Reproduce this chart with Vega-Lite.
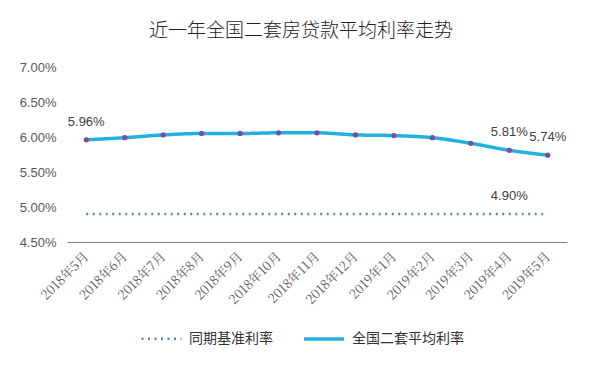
{
  "$schema": "https://vega.github.io/schema/vega-lite/v6.json",
  "width": 500,
  "height": 175,
  "autosize": {"type": "none"},
  "padding": {"left": 67, "top": 67, "right": 28, "bottom": 129},
  "background": "white",
  "title": {
    "text": "近一年全国二套房贷款平均利率走势",
    "font": "Noto Sans CJK SC",
    "fontSize": 19,
    "fontWeight": 300,
    "color": "#222222",
    "anchor": "middle",
    "offset": 20,
    "dx": -16
  },
  "data": {
    "values": [
      {"month": "2018年5月", "series": "全国二套平均利率", "value": 5.96, "label": "5.96%"},
      {"month": "2018年6月", "series": "全国二套平均利率", "value": 5.99, "label": ""},
      {"month": "2018年7月", "series": "全国二套平均利率", "value": 6.03, "label": ""},
      {"month": "2018年8月", "series": "全国二套平均利率", "value": 6.05, "label": ""},
      {"month": "2018年9月", "series": "全国二套平均利率", "value": 6.05, "label": ""},
      {"month": "2018年10月", "series": "全国二套平均利率", "value": 6.06, "label": ""},
      {"month": "2018年11月", "series": "全国二套平均利率", "value": 6.06, "label": ""},
      {"month": "2018年12月", "series": "全国二套平均利率", "value": 6.03, "label": ""},
      {"month": "2019年1月", "series": "全国二套平均利率", "value": 6.02, "label": ""},
      {"month": "2019年2月", "series": "全国二套平均利率", "value": 5.99, "label": ""},
      {"month": "2019年3月", "series": "全国二套平均利率", "value": 5.91, "label": ""},
      {"month": "2019年4月", "series": "全国二套平均利率", "value": 5.81, "label": "5.81%"},
      {"month": "2019年5月", "series": "全国二套平均利率", "value": 5.74, "label": "5.74%"},
      {"month": "2018年5月", "series": "同期基准利率", "value": 4.9, "label": ""},
      {"month": "2018年6月", "series": "同期基准利率", "value": 4.9, "label": ""},
      {"month": "2018年7月", "series": "同期基准利率", "value": 4.9, "label": ""},
      {"month": "2018年8月", "series": "同期基准利率", "value": 4.9, "label": ""},
      {"month": "2018年9月", "series": "同期基准利率", "value": 4.9, "label": ""},
      {"month": "2018年10月", "series": "同期基准利率", "value": 4.9, "label": ""},
      {"month": "2018年11月", "series": "同期基准利率", "value": 4.9, "label": ""},
      {"month": "2018年12月", "series": "同期基准利率", "value": 4.9, "label": ""},
      {"month": "2019年1月", "series": "同期基准利率", "value": 4.9, "label": ""},
      {"month": "2019年2月", "series": "同期基准利率", "value": 4.9, "label": ""},
      {"month": "2019年3月", "series": "同期基准利率", "value": 4.9, "label": ""},
      {"month": "2019年4月", "series": "同期基准利率", "value": 4.9, "label": "4.90%"},
      {"month": "2019年5月", "series": "同期基准利率", "value": 4.9, "label": ""}
    ]
  },
  "encoding": {
    "x": {
      "field": "month",
      "type": "ordinal",
      "sort": null,
      "scale": {"type": "point", "padding": 0.5},
      "axis": {
        "title": null,
        "labelAngle": -45,
        "labelAlign": "right",
        "labelBaseline": "middle",
        "labelFont": "Noto Serif CJK SC, Liberation Serif, serif",
        "labelFontSize": 13,
        "labelColor": "#595959",
        "labelPadding": 12,
        "ticks": false,
        "domainColor": "#888888",
        "domainWidth": 1,
        "grid": false
      }
    },
    "y": {
      "field": "value",
      "type": "quantitative",
      "scale": {"domain": [4.5, 7.0], "nice": false, "zero": false},
      "axis": {
        "title": null,
        "values": [4.5, 5.0, 5.5, 6.0, 6.5, 7.0],
        "labelExpr": "format(datum.value, '.2f') + '%'",
        "labelFont": "Liberation Sans",
        "labelFontSize": 13,
        "labelColor": "#595959",
        "labelPadding": 11,
        "ticks": false,
        "domain": false,
        "grid": false
      }
    }
  },
  "layer": [
    {
      "mark": {"type": "line", "interpolate": "monotone"},
      "encoding": {
        "color": {
          "field": "series",
          "type": "nominal",
          "scale": {"domain": ["同期基准利率", "全国二套平均利率"], "range": ["#5b84b1", "#22b0dc"]},
          "legend": {
            "title": null,
            "orient": "none",
            "legendX": 73,
            "legendY": 250,
            "direction": "horizontal",
            "symbolType": "stroke",
            "symbolSize": 1600,
            "labelFont": "Noto Sans CJK SC",
            "labelFontSize": 14,
            "labelColor": "#333333",
            "columnPadding": 24,
            "labelOffset": 6
          }
        },
        "strokeDash": {
          "field": "series",
          "type": "nominal",
          "scale": {"domain": ["同期基准利率", "全国二套平均利率"], "range": [[2, 4.5], [1, 0]]},
          "legend": null
        },
        "strokeWidth": {
          "field": "series",
          "type": "nominal",
          "scale": {"domain": ["同期基准利率", "全国二套平均利率"], "range": [2.5, 3.5]},
          "legend": null
        }
      }
    },
    {
      "transform": [{"filter": "datum.series === '全国二套平均利率'"}],
      "mark": {"type": "point", "filled": true, "color": "#7b4f9e", "size": 28, "opacity": 1}
    },
    {
      "transform": [{"filter": "datum.label !== ''"}],
      "mark": {"type": "text", "dy": -18, "font": "Liberation Sans", "fontSize": 13, "color": "#404040"},
      "encoding": {"text": {"field": "label"}}
    }
  ],
  "config": {"view": {"stroke": null}}
}
